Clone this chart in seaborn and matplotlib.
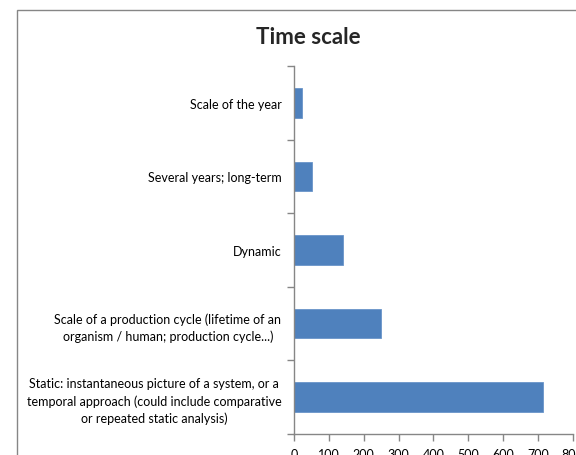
import matplotlib
matplotlib.use("Agg")
import matplotlib.pyplot as plt
import seaborn as sns
import pandas as pd
from matplotlib.patches import Rectangle
from matplotlib.ticker import FixedLocator

categories = [
    "Scale of the year",
    "Several years; long-term",
    "Dynamic",
    "Scale of a production cycle (lifetime of an\norganism / human; production cycle...)",
    "Static: instantaneous picture of a system, or a\ntemporal approach (could include comparative\nor repeated static analysis)",
]
counts = [23, 52, 140, 249, 716]
x_ticks = [0, 100, 200, 300, 400, 500, 600, 700, 800]

df = pd.DataFrame({"category": categories, "count": counts})

sns.set_theme(style="white")
plt.rcParams["font.family"] = ["Lato", "DejaVu Sans"]

fig = plt.figure(figsize=(5.76, 4.56), dpi=100)
ax = fig.add_axes([294 / 576, 1 - 435 / 456, (572.7 - 294) / 576, (435 - 67) / 456])

sns.barplot(data=df, x="count", y="category", order=categories, color="#4F81BD",
            width=0.4, saturation=1, edgecolor="#6A95C9", linewidth=0.6, ax=ax)

ax.set_xlim(0, 800)
ax.set_ylim(len(categories) - 0.5, -0.5)
ax.xaxis.set_major_locator(FixedLocator(x_ticks))
ax.set_xticklabels([str(v) for v in x_ticks])
ax.set_xlabel("")
ax.set_ylabel("")

for side in ("top", "right"):
    ax.spines[side].set_visible(False)
for side in ("left", "bottom"):
    ax.spines[side].set_color("#868686")
    ax.spines[side].set_linewidth(1.0)

ax.tick_params(axis="x", which="major", direction="out", length=5, width=1,
               color="#868686", labelsize=9.0, labelcolor="black", pad=5, bottom=True)
ax.tick_params(axis="y", which="major", length=0, labelsize=9.0, labelcolor="black", pad=9)
ax.yaxis.set_minor_locator(FixedLocator([i - 0.5 for i in range(len(categories) + 1)]))
ax.tick_params(axis="y", which="minor", direction="out", length=5, width=1,
               color="#868686", left=True)
for lbl in ax.get_yticklabels():
    lbl.set_multialignment("center")
    lbl.set_linespacing(1.45)

fig.text(308 / 576, 1 - 38 / 456, "Time scale", ha="center", va="center",
         fontsize=16, fontweight="bold")

# chart frame
fig.patches.append(Rectangle((17 / 576, -0.1), 1.2, 1 - 11 / 456 + 0.1,
                             transform=fig.transFigure, fill=False,
                             edgecolor="#868686", linewidth=1.0))

fig.savefig("out.png", dpi=100)
